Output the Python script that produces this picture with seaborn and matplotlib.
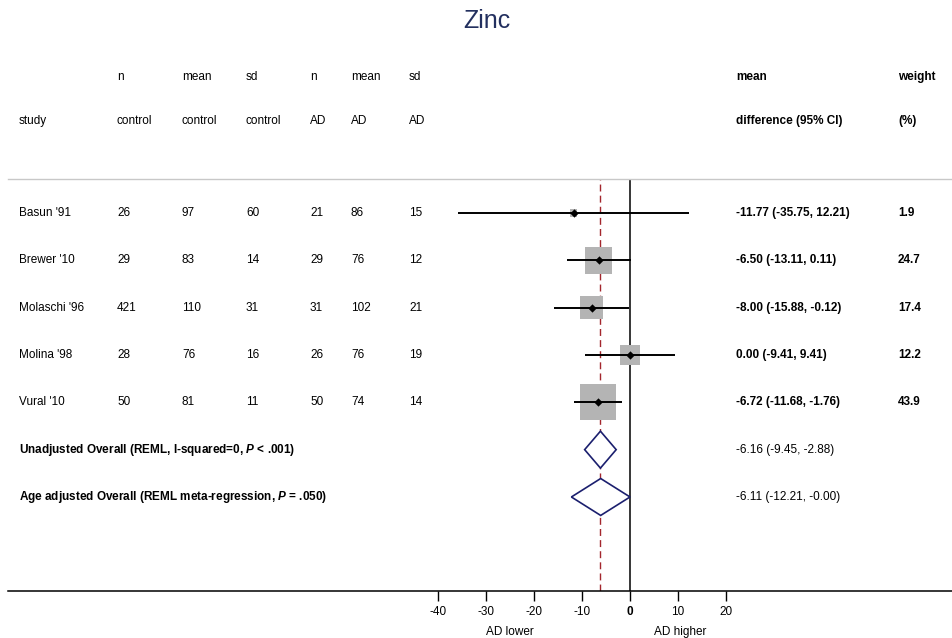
import numpy as np
import pandas as pd
import matplotlib
matplotlib.use("Agg")
import matplotlib.pyplot as plt
import matplotlib.transforms as mtransforms
from matplotlib.patches import Polygon
import seaborn as sns

# ---- data ----
studies = ["Basun '91", "Brewer '10", "Molaschi '96", "Molina '98", "Vural '10"]
n_control = [26, 29, 421, 28, 50]
mean_control = [97, 83, 110, 76, 81]
sd_control = [60, 14, 31, 16, 11]
n_ad = [21, 29, 31, 26, 50]
mean_ad = [86, 76, 102, 76, 74]
sd_ad = [15, 12, 21, 19, 14]
mean_diff = [-11.77, -6.50, -8.00, 0.00, -6.72]
ci_low = [-35.75, -13.11, -15.88, -9.41, -11.68]
ci_high = [12.21, 0.11, -0.12, 9.41, -1.76]
weights = [1.9, 24.7, 17.4, 12.2, 43.9]

overall_labels = [
    r"Unadjusted Overall (REML, I-squared=0, $\bfit{P}$ < .001)",
    r"Age adjusted Overall (REML meta-regression, $\bfit{P}$ = .050)",
]
overall_est = [-6.16, -6.11]
overall_low = [-9.45, -12.21]
overall_high = [-2.88, -0.00]

x_ticks = [-40, -30, -20, -10, 0, 10, 20]

# ---- style ----
sns.set_theme(style="white")
plt.rcParams["font.family"] = ["Liberation Sans", "DejaVu Sans"]
plt.rcParams["text.color"] = "black"
plt.rcParams["xtick.color"] = "black"
plt.rcParams["mathtext.fontset"] = "custom"
plt.rcParams["mathtext.bfit"] = "Liberation Sans:bold:italic"
plt.rcParams["mathtext.rm"] = "Liberation Sans:bold"

W, H = 953, 638
fig = plt.figure(figsize=(W / 100, H / 100), dpi=100)
ax_left, ax_right, ax_top, ax_bot = 8, 953, 179, 591
ax = fig.add_axes([ax_left / W, 1 - ax_bot / H, (ax_right - ax_left) / W, (ax_bot - ax_top) / H])

px_per_unit = 4.8
zero_px = 630
ax.set_xlim((ax_left - zero_px) / px_per_unit, (ax_right - zero_px) / px_per_unit)
row_px0, row_step = 213, 47.33
ax.set_ylim((ax_bot - row_px0) / row_step, (ax_top - row_px0) / row_step)

fs = 8.5
navy = "#1b1f6e"

df = pd.DataFrame({
    "study": studies, "md": mean_diff, "lo": ci_low, "hi": ci_high,
    "w": weights, "row": np.arange(len(studies)),
})

# confidence intervals
ax.hlines(df["row"], df["lo"], df["hi"], color="black", lw=1.4, zorder=3)

# weight squares (area proportional to weight)
side_pt = 5.45 * 0.72 * np.sqrt(df["w"])
ax.scatter(df["md"], df["row"], s=side_pt ** 2, marker="s", color="#b4b4b4",
           edgecolor="none", zorder=2)
sns.scatterplot(data=df, x="md", y="row", marker="D", color="black", s=18,
                edgecolor="black", linewidth=0, ax=ax, zorder=4, legend=False)

# summary diamonds
n = len(studies)
for i, (est, lo, hi) in enumerate(zip(overall_est, overall_low, overall_high)):
    y = n + i
    hh = 0.39
    poly = Polygon([[lo, y], [est, y - hh], [hi, y], [est, y + hh]], closed=True,
                   facecolor="white", edgecolor=navy, lw=1.2, zorder=3)
    ax.add_patch(poly)

# reference lines
ax.axvline(0, color="black", lw=1.1, zorder=1)
ax.axvline(overall_est[0], color="#a3262d", lw=1.0, ls=(0, (5, 3)), zorder=1)

# axes styling
for s in ["left", "right"]:
    ax.spines[s].set_visible(False)
ax.spines["top"].set_color("#c8c8c8")
ax.spines["top"].set_linewidth(1.0)
ax.spines["bottom"].set_color("black")
ax.spines["bottom"].set_linewidth(1.1)
ax.set_yticks([])
ax.set_xticks(x_ticks)
ax.set_xticklabels([str(t) for t in x_ticks], fontsize=fs)
for lab, t in zip(ax.get_xticklabels(), x_ticks):
    if t == 0:
        lab.set_fontweight("bold")
ax.tick_params(axis="x", direction="out", length=7, width=1.0, color="black",
               labelcolor="black", pad=4, bottom=True)
ax.set_xlabel("")
ax.set_ylabel("")
ax.grid(False)

# ---- text columns ----
def fx(px):
    return px / W

def fy(px):
    return 1 - px / H

row_tr = mtransforms.blended_transform_factory(fig.transFigure, ax.transData)

cols = [
    (19, ["", "study"], studies, "normal"),
    (117, ["n", "control"], n_control, "normal"),
    (182, ["mean", "control"], mean_control, "normal"),
    (246, ["sd", "control"], sd_control, "normal"),
    (310, ["n", "AD"], n_ad, "normal"),
    (351, ["mean", "AD"], mean_ad, "normal"),
    (409, ["sd", "AD"], sd_ad, "normal"),
    (736, ["mean", "difference (95% CI)"],
     [f"{m:.2f} ({l:.2f}, {h:.2f})" for m, l, h in zip(mean_diff, ci_low, ci_high)], "bold"),
    (898, ["weight", "(%)"], [f"{w:.1f}" for w in weights], "bold"),
]
for xpx, heads, vals, wt in cols:
    fig.text(fx(xpx), fy(80), heads[0], fontsize=fs, fontweight=wt, ha="left", va="baseline")
    fig.text(fx(xpx), fy(124), heads[1], fontsize=fs, fontweight=wt, ha="left", va="baseline")
    for i, v in enumerate(vals):
        ax.text(fx(xpx), i, str(v), transform=row_tr, fontsize=fs, fontweight=wt,
                ha="left", va="center")

for i, (lab, est, lo, hi) in enumerate(zip(overall_labels, overall_est, overall_low, overall_high)):
    ax.text(fx(19), n + i, lab, transform=row_tr, fontsize=fs, fontweight="bold",
            ha="left", va="center")
    ax.text(fx(736), n + i, f"{est:.2f} ({lo:.2f}, {hi:.2f})", transform=row_tr,
            fontsize=fs, ha="left", va="center")

# axis side labels
bot_tr = mtransforms.blended_transform_factory(ax.transData, fig.transFigure)
ax.text(-25, fy(632), "AD lower", transform=bot_tr, fontsize=fs, ha="center", va="center")
ax.text(10.5, fy(632), "AD higher", transform=bot_tr, fontsize=fs, ha="center", va="center")

fig.text(fx(487), fy(21), "Zinc", fontsize=18, color="#23305f", ha="center", va="center")

fig.savefig("out.png", dpi=100)
